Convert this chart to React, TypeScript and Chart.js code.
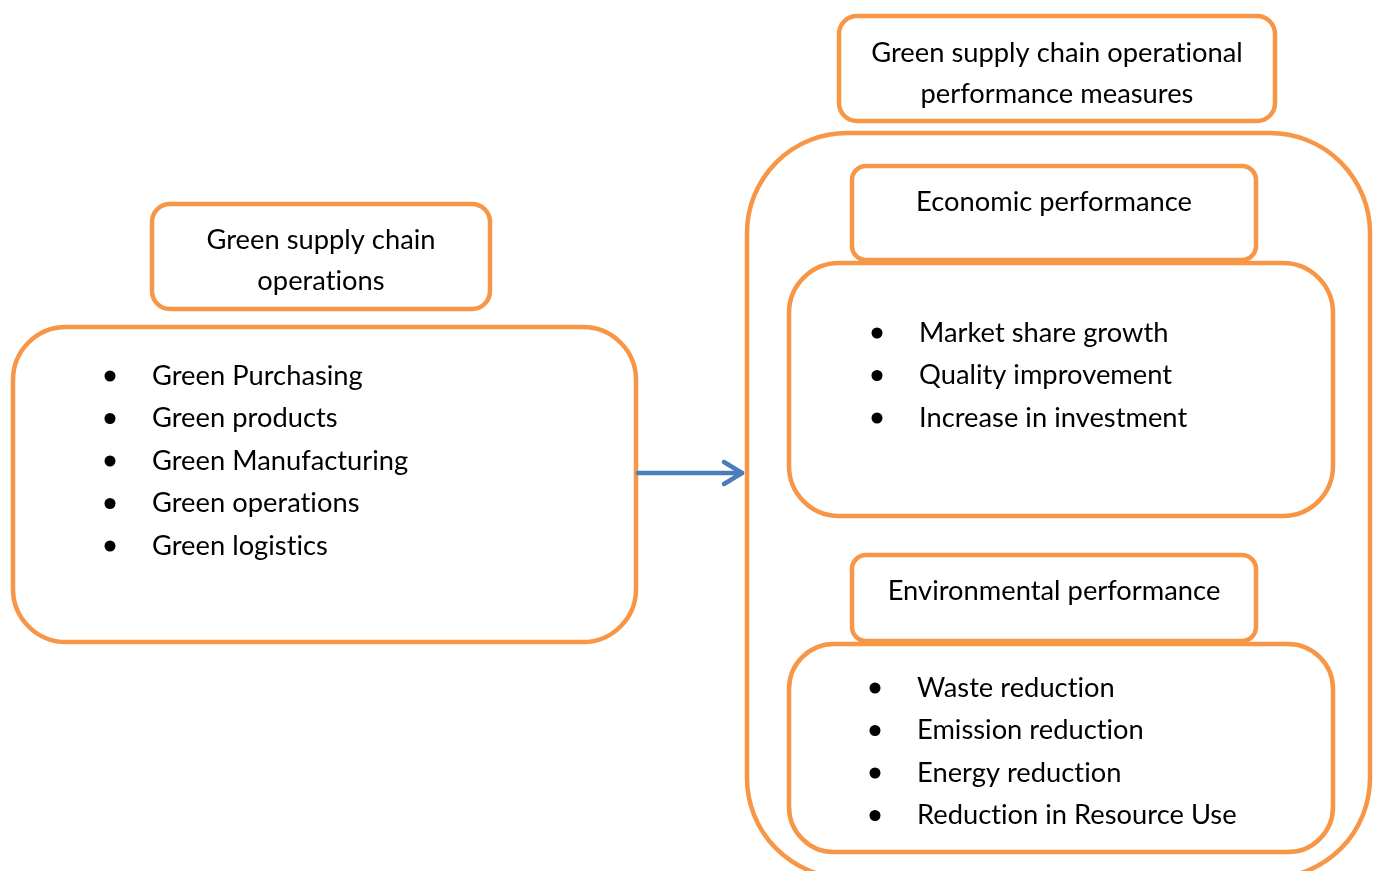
import React, { useEffect, useRef } from "react";
import { Chart, registerables } from "chart.js";

Chart.register(...registerables);

// ---- content ----
const operationsTitle = ["Green supply chain", "operations"];
const operationsItems = [
  "Green Purchasing",
  "Green products",
  "Green Manufacturing",
  "Green operations",
  "Green logistics",
];
const measuresTitle = ["Green supply chain operational", "performance measures"];
const economicTitle = ["Economic performance"];
const economicItems = ["Market share growth", "Quality improvement", "Increase in investment"];
const environmentalTitle = ["Environmental performance"];
const environmentalItems = [
  "Waste reduction",
  "Emission reduction",
  "Energy reduction",
  "Reduction in Resource Use",
];

// ---- layout (canvas units) ----
const W = 1377;
const H = 871;
const ORANGE = "#F79646";
const BLUE = "#4A7EBB";
const FONT = "Lato, 'Open Sans', sans-serif";
const FONT_SIZE = 27.3;
const LINE_H = 42.5;

type Box = { x: number; y: number; w: number; h: number; r: number };
const boxes: Box[] = [
  { x: 747, y: 133, w: 623, h: 745, r: 100 }, // container
  { x: 13, y: 327, w: 623, h: 315, r: 53 },
  { x: 152, y: 204, w: 338, h: 105, r: 18 },
  { x: 839, y: 16, w: 436, h: 105, r: 18 },
  { x: 789, y: 263, w: 544, h: 253, r: 50 },
  { x: 852, y: 166, w: 404, h: 94, r: 14 },
  { x: 789, y: 644, w: 544, h: 208, r: 45 },
  { x: 852, y: 555, w: 404, h: 86, r: 14 },
];

const titles = [
  { lines: operationsTitle, cx: 321, y: 240 },
  { lines: measuresTitle, cx: 1057, y: 53 },
  { lines: economicTitle, cx: 1054, y: 202 },
  { lines: environmentalTitle, cx: 1054, y: 591 },
];

const lists = [
  { items: operationsItems, bx: 110, tx: 152, y: 376 },
  { items: economicItems, bx: 877, tx: 919, y: 333 },
  { items: environmentalItems, bx: 875, tx: 917, y: 688 },
];

const bulletPoints = lists.flatMap((l) =>
  l.items.map((_, i) => ({ x: l.bx, y: l.y + i * LINE_H }))
);

function roundRect(ctx: CanvasRenderingContext2D, x: number, y: number, w: number, h: number, r: number) {
  ctx.beginPath();
  ctx.moveTo(x + r, y);
  ctx.lineTo(x + w - r, y);
  ctx.arcTo(x + w, y, x + w, y + r, r);
  ctx.lineTo(x + w, y + h - r);
  ctx.arcTo(x + w, y + h, x + w - r, y + h, r);
  ctx.lineTo(x + r, y + h);
  ctx.arcTo(x, y + h, x, y + h - r, r);
  ctx.lineTo(x, y + r);
  ctx.arcTo(x, y, x + r, y, r);
  ctx.closePath();
}

const diagramPlugin = {
  id: "diagram",
  beforeDatasetsDraw(chart: any) {
    const ctx: any = chart.ctx;
    const sx = chart.scales.x;
    const sy = chart.scales.y;
    const px = (v: number) => sx.getPixelForValue(v);
    const py = (v: number) => sy.getPixelForValue(v);
    ctx.save();
    ctx.fillStyle = "#ffffff";
    ctx.fillRect(0, 0, chart.width, chart.height);
    ctx.lineWidth = 4.5;
    ctx.strokeStyle = ORANGE;
    for (const b of boxes) {
      const x0 = px(b.x);
      const y0 = py(b.y);
      const x1 = px(b.x + b.w);
      const y1 = py(b.y + b.h);
      roundRect(ctx, x0, y0, x1 - x0, y1 - y0, b.r);
      ctx.fillStyle = "#ffffff";
      ctx.fill();
      ctx.stroke();
    }
    // arrow
    ctx.strokeStyle = BLUE;
    ctx.lineWidth = 4.5;
    ctx.lineCap = "round";
    ctx.lineJoin = "round";
    ctx.beginPath();
    ctx.moveTo(px(638), py(473));
    ctx.lineTo(px(742), py(473));
    ctx.stroke();
    ctx.beginPath();
    ctx.moveTo(px(724), py(462));
    ctx.lineTo(px(742), py(473));
    ctx.lineTo(px(724), py(484));
    ctx.stroke();

    // text
    ctx.fillStyle = "#000000";
    ctx.font = `${FONT_SIZE}px ${FONT}`;
    try {
      ctx.textRendering = "optimizeSpeed";
      ctx.letterSpacing = "0.01px";
    } catch (e) {
      /* ignore */
    }
    ctx.textBaseline = "middle";
    ctx.textAlign = "center";
    for (const t of titles) {
      t.lines.forEach((line, i) => ctx.fillText(line, px(t.cx), py(t.y + i * 41)));
    }
    ctx.textAlign = "left";
    for (const l of lists) {
      l.items.forEach((item, i) => ctx.fillText(item, px(l.tx), py(l.y + i * LINE_H)));
    }
    ctx.restore();
  },
};

export default function App() {
  const ref = useRef<HTMLCanvasElement | null>(null);
  useEffect(() => {
    document.body.style.margin = "0";
    const canvas = ref.current!;
    const chart = new Chart(canvas, {
      type: "scatter",
      data: {
        datasets: [
          {
            data: bulletPoints,
            pointRadius: 5.5,
            pointBackgroundColor: "#000000",
            pointBorderWidth: 0,
            showLine: false,
          },
        ],
      },
      options: {
        animation: false,
        responsive: false,
        devicePixelRatio: 1,
        layout: { padding: 0, autoPadding: false },
        plugins: { legend: { display: false }, tooltip: { enabled: false } },
        scales: {
          x: { type: "linear", min: 0, max: W, display: false },
          y: { type: "linear", min: 0, max: H, reverse: true, display: false },
        },
      },
      plugins: [diagramPlugin],
    });
    return () => chart.destroy();
  }, []);
  return (
    <div style={{ width: W, height: H }}>
      <canvas ref={ref} width={W} height={H} style={{ display: "block" }} />
    </div>
  );
}
